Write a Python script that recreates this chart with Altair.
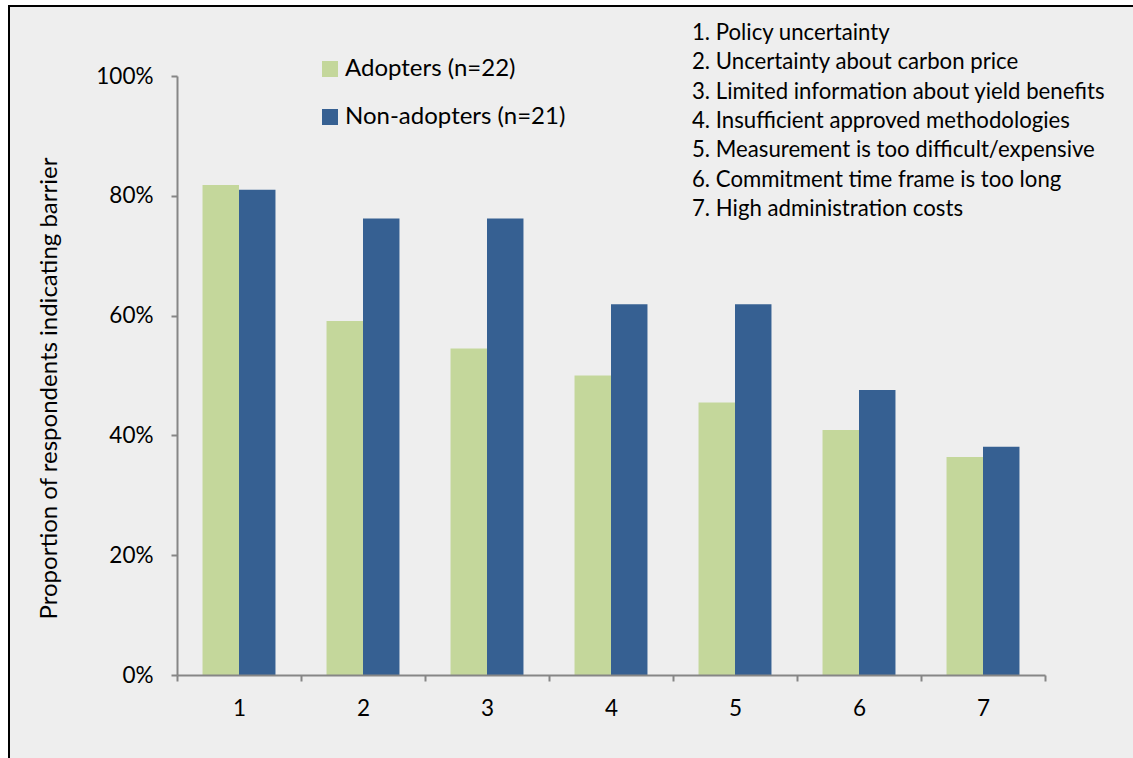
import altair as alt
import pandas as pd

categories = ["1", "2", "3", "4", "5", "6", "7"]
adopters = [0.818, 0.591, 0.545, 0.500, 0.455, 0.409, 0.364]
non_adopters = [0.810, 0.762, 0.762, 0.619, 0.619, 0.476, 0.381]
series_names = ["Adopters (n=22)", "Non-adopters (n=21)"]
series_colors = ["#c4d79b", "#366092"]
barrier_list = [
    "1. Policy uncertainty",
    "2. Uncertainty about carbon price",
    "3. Limited information about yield benefits",
    "4. Insufficient approved methodologies",
    "5. Measurement is too difficult/expensive",
    "6. Commitment time frame is too long",
    "7. High administration costs",
]

rows = []
for c, a, n in zip(categories, adopters, non_adopters):
    rows.append({"cat": c, "series": series_names[0], "value": a})
    rows.append({"cat": c, "series": series_names[1], "value": n})
df = pd.DataFrame(rows)

FONT = "Lato"
PL, PT = 177, 76
W, H = 868, 599
one = pd.DataFrame({"k": [0]})

frame = alt.Chart(one).mark_rect(fill="#eeeeee").encode(
    x=alt.value(9 - PL), x2=alt.value(1133 - PL + 20),
    y=alt.value(6 - PT), y2=alt.value(758 - PT + 20)
)
left_line = alt.Chart(one).mark_rule(color="#000000", strokeWidth=2).encode(
    x=alt.value(9 - PL), y=alt.value(5 - PT), y2=alt.value(758 - PT + 20)
)
top_line = alt.Chart(one).mark_rule(color="#000000", strokeWidth=2).encode(
    y=alt.value(6 - PT), x=alt.value(8 - PL), x2=alt.value(1133 - PL + 20)
)

bars = alt.Chart(df).mark_bar().encode(
    x=alt.X("cat:N", sort=categories,
            scale=alt.Scale(paddingInner=0, paddingOuter=0),
            axis=alt.Axis(title=None, labelAngle=0, tickBand="extent",
                          labelPadding=16, tickSize=6, zindex=1)),
    xOffset=alt.XOffset("series:N", sort=series_names,
                        scale=alt.Scale(paddingInner=0, paddingOuter=0.7)),
    y=alt.Y("value:Q", scale=alt.Scale(domain=[0, 1], nice=False),
            axis=alt.Axis(title="Proportion of respondents indicating barrier",
                          format=".0%", values=[0, 0.2, 0.4, 0.6, 0.8, 1.0],
                          tickSize=6, labelPadding=18, titlePadding=34,
                          titleFontSize=24, titleY=312, zindex=1)),
    color=alt.Color("series:N", sort=series_names,
                    scale=alt.Scale(domain=series_names, range=series_colors),
                    legend=alt.Legend(title=None, orient="none",
                                      legendX=141, legendY=-19,
                                      symbolType="square", symbolSize=256,
                                      symbolStrokeWidth=0,
                                      labelFontSize=24, labelFont=FONT,
                                      labelColor="#000000", labelLimit=0,
                                      labelOffset=3, rowPadding=24)),
)

listing = alt.Chart(one).mark_text(
    align="left", baseline="alphabetic", font=FONT, fontSize=22.2,
    lineHeight=29.3, color="#000000"
).encode(
    text=alt.value(barrier_list),
    x=alt.value(692 - PL),
    y=alt.value(40 - PT),
)

chart = alt.layer(frame, left_line, top_line, bars, listing).properties(
    width=W, height=H,
    autosize=alt.AutoSizeParams(type="none"),
    padding={"left": PL, "top": PT, "right": 1133 - PL - W, "bottom": 758 - PT - H},
    background="#ffffff",
).configure_view(stroke=None).configure_axis(
    domainColor="#868686", domainWidth=2, tickColor="#868686", tickWidth=2,
    grid=False, labelFont=FONT, labelFontSize=22.5, labelColor="#000000",
    titleFont=FONT, titleColor="#000000", titleFontWeight="normal",
)

chart.save("out.html", embed_options={"renderer": "svg", "actions": False})
